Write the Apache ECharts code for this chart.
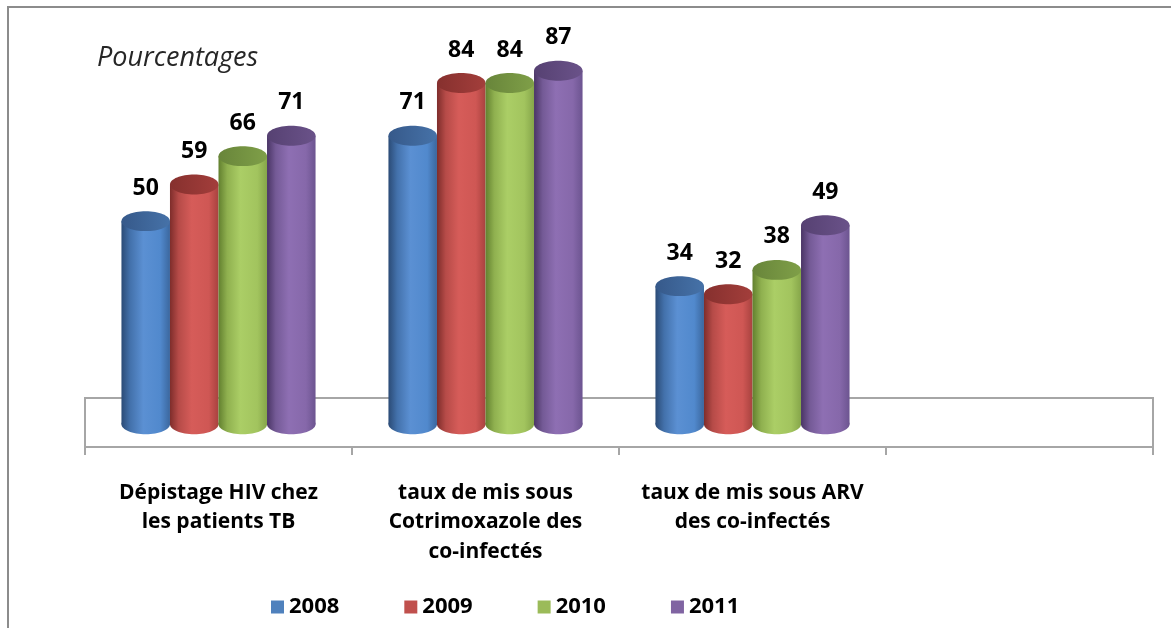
<!DOCTYPE html>
<html>
<head>
<meta charset="utf-8">
<script src="https://cdn.jsdelivr.net/npm/echarts@6/dist/echarts.min.js"></script>
<style>
html,body{margin:0;padding:0;background:#fff;}
#chart{width:1171px;height:628px;}
</style>
</head>
<body>
<div id="chart"></div>
<script>
const categories = ['Dépistage HIV chez\nles patients TB', 'taux de mis sous\nCotrimoxazole des\nco-infectés', 'taux de mis sous ARV\ndes co-infectés', ''];
const years = ['2008', '2009', '2010', '2011'];
const values2008 = [50, 71, 34, null];
const values2009 = [59, 84, 32, null];
const values2010 = [66, 84, 38, null];
const values2011 = [71, 87, 49, null];
const seriesValues = [values2008, values2009, values2010, values2011];
const axisTitle = 'Pourcentages';

const palettes = [
  {base:'#4F81BD', body:['#2b4b76','#4371ab','#5b90d3','#5189cd','#3b679e'], top:['#36598a','#4672a8']},
  {base:'#C0504D', body:['#7e2d2b','#b64b48','#d65c59','#cf5754','#a8423f'], top:['#86302e','#a33e3b']},
  {base:'#9BBB59', body:['#62802f','#8fb04f','#abce66','#a2c45e','#86a64a'], top:['#68853a','#7f9f48']},
  {base:'#8064A2', body:['#4a3565','#745a96','#8e6fb3','#8668aa','#6c5490'], top:['#564172','#6a5289']}
];

function renderItem(params, api) {
  const ci = api.value(0);
  const v = api.value(1);
  if (v == null || isNaN(v)) return;
  const band = api.size([1, 0])[0];
  const groupW = band * 0.727;
  const bw = groupW / 4;
  const base = api.coord([ci, 0]);
  const topP = api.coord([ci, v]);
  const si = params.seriesIndex;
  const x0 = base[0] - groupW / 2 + si * bw;
  const rx = bw / 2, ry = bw * 0.205;
  const cx = x0 + rx;
  const yB = base[1], yT = topP[1];
  const p = palettes[si];
  const bodyGrad = new echarts.graphic.LinearGradient(0, 0, 1, 0, [
    {offset:0, color:p.body[0]}, {offset:0.18, color:p.body[1]},
    {offset:0.45, color:p.body[2]}, {offset:0.8, color:p.body[3]}, {offset:1, color:p.body[4]}
  ]);
  const topGrad = new echarts.graphic.LinearGradient(0, 0, 1, 0, [
    {offset:0, color:p.top[0]}, {offset:1, color:p.top[1]}
  ]);
  return {
    type: 'group',
    children: [
      {type:'ellipse', shape:{cx:cx, cy:yB, rx:rx, ry:ry}, style:{fill:bodyGrad}},
      {type:'rect', shape:{x:x0, y:yT, width:bw, height:yB - yT}, style:{fill:bodyGrad}},
      {type:'ellipse', shape:{cx:cx, cy:yT, rx:rx, ry:ry}, style:{fill:topGrad}},
      {type:'text', x:cx, y:yT - 33, style:{text:String(v), fill:'#000', font:'bold 23px "Open Sans"', align:'center', verticalAlign:'middle'}}
    ]
  };
}

const series = years.map((y, i) => ({
  name: y,
  type: 'custom',
  xAxisIndex: 0,
  yAxisIndex: 0,
  renderItem: renderItem,
  itemStyle: {color: palettes[i].base},
  data: seriesValues[i].map((v, k) => [k, v]),
  z: 3
}));

const chart = echarts.init(document.getElementById('chart'), null, {renderer:'canvas'});
chart.setOption({
  animation: false,
  backgroundColor: '#fff',
  grid: [
    {left:85, right:18, top:18, bottom:181},
    {left:85, right:18, top:398, bottom:181, show:true, borderColor:'#a6a6a6', borderWidth:2, backgroundColor:'transparent'}
  ],
  xAxis: [
    {type:'category', gridIndex:0, data:categories, show:false},
    {type:'category', gridIndex:1, data:categories, boundaryGap:true,
     axisLine:{show:true, lineStyle:{color:'#a6a6a6', width:2}},
     axisTick:{show:true, interval:0, length:8, lineStyle:{color:'#a6a6a6', width:2}},
     axisLabel:{interval:0, margin:31, color:'#000', fontFamily:'Open Sans', fontWeight:'bold', fontSize:21, lineHeight:29.5}}
  ],
  yAxis: [
    {type:'value', gridIndex:0, min:-5.6, max:100, show:false, splitLine:{show:false}},
    {type:'value', gridIndex:1, show:false, splitLine:{show:false}}
  ],
  legend: {
    left: 266, top: 591,
    itemWidth: 13, itemHeight: 13, itemGap: 65,
    icon: 'rect',
    textStyle: {color:'#000', fontFamily:'Open Sans', fontWeight:'bold', fontSize:22},
    data: years
  },
  graphic: [
    {type:'rect', shape:{x:8, y:7, width:1300, height:800}, style:{fill:'none', stroke:'#8c8c8c', lineWidth:2}, z:-1},
    {type:'text', left:97, top:45, style:{text:axisTitle, fill:'#262626', font:'italic 27px "Open Sans"'}}
  ],
  series: series
});
</script>
</body>
</html>
